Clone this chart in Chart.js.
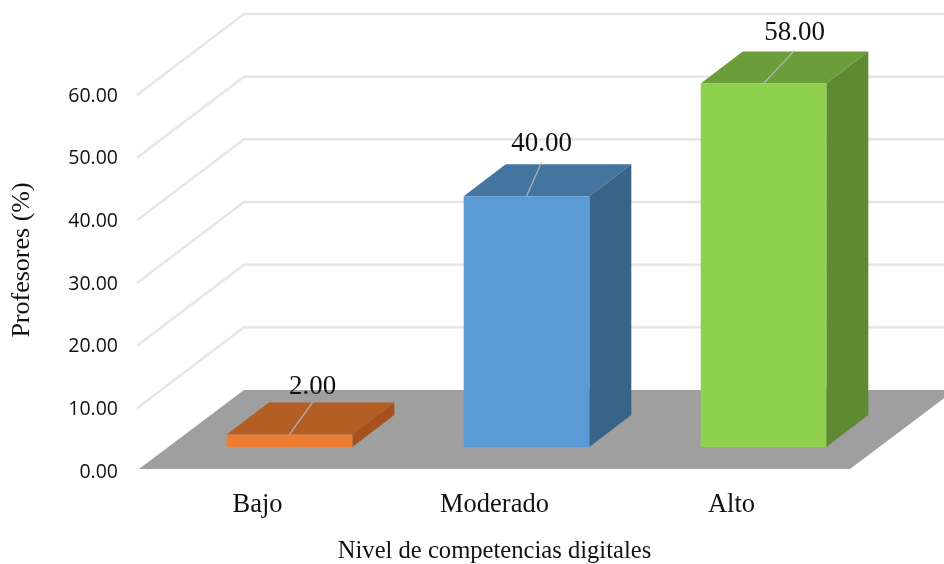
<!DOCTYPE html>
<html><head><meta charset="utf-8">
<style>html,body{margin:0;padding:0;background:#fff}#w{width:944px;height:564px;position:relative}</style>
<script src="https://cdn.jsdelivr.net/npm/chart.js@4/dist/chart.umd.min.js"></script>
</head><body><div id="w"><canvas id="c" width="944" height="564"></canvas></div>
<script>
const categories = ["Bajo", "Moderado", "Alto"];
const values = [2, 40, 58];
const tickValues = [0, 10, 20, 30, 40, 50, 60];
const frontColors = ["#ED7D31", "#5B9BD5", "#8FD14F"];
const topColors = ["#B25E25", "#4474A0", "#6C9D3B"];
const sideColors = ["#A5521D", "#3A6388", "#5F8A33"];
const yAxisTitle = "Profesores (%)";
const xAxisTitle = "Nivel de competencias digitales";

const SHIFT = 3;                  // axis labels sit this far below the drawn plane
const OFF = {x: 32, y: -22};      // front plane of bars relative to the axis plane
const BAR_D = {x: 42, y: -32};    // bar depth
const FLOOR_D = {x: 105, y: -79}; // floor depth
const LEAD = [{x: 23, y: -32, gap: 8}, {x: 15, y: -34, gap: 11}, {x: 31, y: -33, gap: 11}];

function poly(ctx, pts, fill) {
  ctx.beginPath();
  pts.forEach((p, i) => i ? ctx.lineTo(p[0], p[1]) : ctx.moveTo(p[0], p[1]));
  ctx.closePath();
  ctx.fillStyle = fill;
  ctx.fill();
}

const scene = {
  id: "scene",
  beforeDatasetsDraw(chart) {
    const {ctx, chartArea: a, scales: {y}} = chart;
    ctx.save();
    ctx.strokeStyle = "#E6E6E6";
    ctx.lineWidth = 2.5;
    tickValues.slice(1).forEach(v => {
      const py = y.getPixelForValue(v) - SHIFT;
      ctx.beginPath();
      ctx.moveTo(a.left - 2, py + 2);
      ctx.lineTo(a.left + FLOOR_D.x, py + FLOOR_D.y);
      ctx.lineTo(chart.width, py + FLOOR_D.y);
      ctx.stroke();
    });
    const b = y.getPixelForValue(0) - SHIFT;
    poly(ctx, [[a.left, b], [a.right, b], [a.right + FLOOR_D.x, b + FLOOR_D.y], [a.left + FLOOR_D.x, b + FLOOR_D.y]], "#9F9F9F");
    ctx.restore();
  },
  beforeDatasetDraw(chart) {
    const {ctx} = chart;
    ctx.save();
    ctx.translate(OFF.x, OFF.y - SHIFT);
    chart.getDatasetMeta(0).data.forEach((bar, i) => {
      const p = bar.getProps(["x", "y", "base", "width"], true);
      const l = p.x - p.width / 2, r = p.x + p.width / 2;
      poly(ctx, [[l, p.y], [r, p.y], [r + BAR_D.x, p.y + BAR_D.y], [l + BAR_D.x, p.y + BAR_D.y]], topColors[i]);
      poly(ctx, [[r, p.y], [r + BAR_D.x, p.y + BAR_D.y], [r + BAR_D.x, p.base + BAR_D.y], [r, p.base]], sideColors[i]);
    });
  },
  afterDatasetDraw(chart) {
    chart.ctx.restore();
  },
  afterDatasetsDraw(chart) {
    const {ctx} = chart;
    ctx.save();
    ctx.font = '27px "Liberation Serif"';
    ctx.textAlign = "center";
    ctx.textBaseline = "alphabetic";
    chart.getDatasetMeta(0).data.forEach((bar, i) => {
      const p = bar.getProps(["x", "y"], true);
      const fx = p.x + OFF.x, fy = p.y + OFF.y - SHIFT, d = LEAD[i];
      ctx.strokeStyle = "#B5B5B5";
      ctx.lineWidth = 1.2;
      ctx.beginPath();
      ctx.moveTo(fx, fy);
      ctx.lineTo(fx + d.x, fy + d.y);
      ctx.stroke();
      ctx.fillStyle = "#111";
      ctx.fillText(values[i].toFixed(2), fx + d.x, fy + d.y - d.gap);
    });
    ctx.font = '26px "Liberation Serif"';
    ctx.translate(22, 260);
    ctx.rotate(-Math.PI / 2);
    ctx.textBaseline = "middle";
    ctx.fillText(yAxisTitle, 0, 0);
    ctx.restore();
  }
};

new Chart(document.getElementById("c"), {
  type: "bar",
  plugins: [scene],
  data: {
    labels: categories,
    datasets: [{
      data: values,
      backgroundColor: frontColors,
      barPercentage: 0.53,
      categoryPercentage: 1
    }]
  },
  options: {
    responsive: false,
    animation: false,
    devicePixelRatio: 1,
    layout: {padding: {top: 93 + SHIFT, right: 94, left: 0, bottom: 0}},
    plugins: {legend: {display: false}, tooltip: {enabled: false}, title: {display: false}},
    scales: {
      x: {
        afterFit: s => { s.height = 95 - SHIFT; },
        grid: {display: false},
        border: {display: false},
        ticks: {color: "#111", padding: 12 - SHIFT, font: {family: "Liberation Serif", size: 26.5}, maxRotation: 0},
        title: {display: true, text: xAxisTitle, color: "#111", padding: 0, font: {family: "Liberation Serif", size: 24.6, lineHeight: 1}}
      },
      y: {
        min: 0, max: 60,
        afterFit: s => { s.width = 139; },
        afterBuildTicks: s => { s.ticks = tickValues.map(v => ({value: v})); },
        grid: {display: false},
        border: {display: false},
        ticks: {color: "#111", padding: 13, font: {family: "Open Sans", size: 19.5}, callback: v => Number(v).toFixed(2)}
      }
    }
  }
});
</script></body></html>
